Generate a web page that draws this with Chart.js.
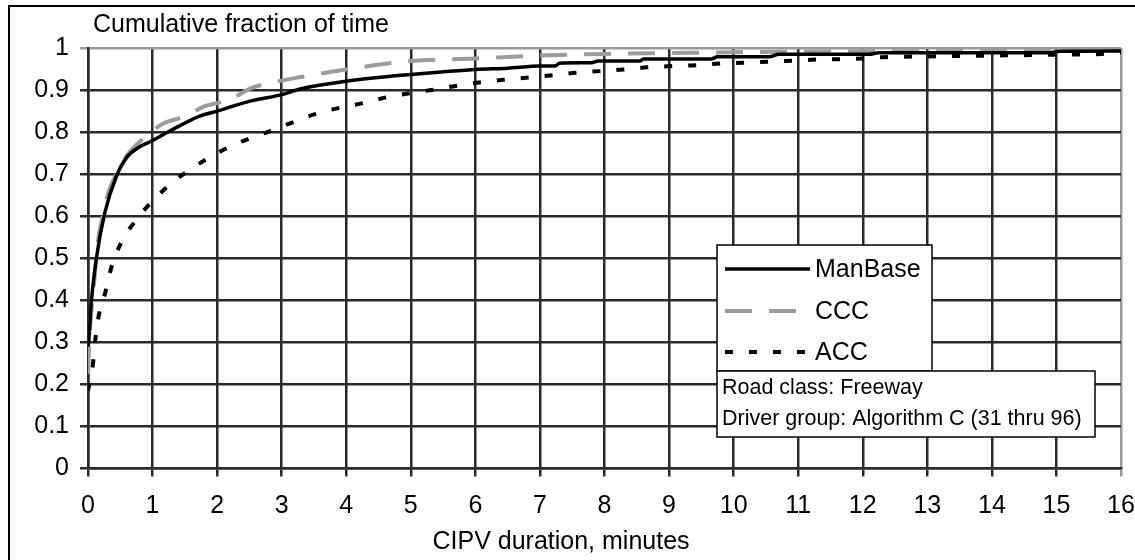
<!DOCTYPE html>
<html>
<head>
<meta charset="utf-8">
<title>CIPV duration</title>
<script src="https://cdn.jsdelivr.net/npm/chart.js@4.4.0/dist/chart.umd.min.js"></script>
<style>
  html, body { margin: 0; padding: 0; background: #fff; }
  canvas { display: block; }
</style>
</head>
<body>
<canvas id="canvas" width="1135" height="560"></canvas>
<script>
// cumulative fraction of time vs CIPV duration (minutes)
const manBaseMin = [0, 0.01, 0.05, 0.13, 0.26, 0.44, 0.6, 0.8, 1.0, 1.26, 1.73, 2.0, 2.5, 3.0, 3.3, 4, 5, 6, 6.5, 7, 7.25, 7.3, 7.8, 7.9, 8.55, 8.6, 9.65, 9.75, 10.55, 10.7, 12.1, 12.25, 14.9, 15.05, 16]
const manBaseFrac = [0.29, 0.3, 0.393, 0.5, 0.608, 0.695, 0.74, 0.765, 0.78, 0.802, 0.838, 0.85, 0.873, 0.889, 0.903, 0.921, 0.937, 0.949, 0.952, 0.957, 0.958, 0.964, 0.965, 0.969, 0.969, 0.974, 0.974, 0.979, 0.979, 0.985, 0.985, 0.989, 0.989, 0.992, 0.993]

const cccMin = [0, 0.03, 0.085, 0.15, 0.23, 0.31, 0.44, 0.61, 0.9, 1.16, 1.5, 1.8, 2.2, 2.5, 2.92, 3.3, 4, 5, 6, 7, 8, 9, 10, 12, 14, 16]
const cccFrac = [0.225, 0.33, 0.425, 0.536, 0.6, 0.654, 0.7, 0.746, 0.79, 0.82, 0.837, 0.861, 0.877, 0.903, 0.92, 0.931, 0.949, 0.969, 0.975, 0.982, 0.986, 0.988, 0.99, 0.992, 0.993, 0.995]

const accMin = [0, 0.075, 0.11, 0.163, 0.27, 0.36, 0.51, 0.75, 1.0, 1.29, 1.65, 2.0, 2.37, 2.76, 3.15, 3.5, 3.9, 4.26, 4.63, 5, 5.36, 5.74, 6.1, 6.47, 6.83, 7.2, 7.56, 7.92, 8.3, 8.66, 9.05, 9.41, 9.78, 10.15, 10.8, 11.2, 12.0, 12.3, 13, 14, 15, 15.7, 16]
const accFrac = [0.185, 0.246, 0.302, 0.361, 0.42, 0.477, 0.536, 0.592, 0.636, 0.678, 0.718, 0.75, 0.777, 0.799, 0.822, 0.842, 0.858, 0.869, 0.883, 0.893, 0.901, 0.911, 0.919, 0.925, 0.93, 0.935, 0.941, 0.945, 0.949, 0.954, 0.957, 0.959, 0.963, 0.965, 0.969, 0.972, 0.975, 0.978, 0.98, 0.982, 0.984, 0.986, 0.99]

const seriesNames = ['ManBase', 'CCC', 'ACC']
const noteLines = ['Road class: Freeway', 'Driver group: Algorithm C (31 thru 96)']
const yTitle = 'Cumulative fraction of time'
const xTitle = 'CIPV duration, minutes'

const FONT = "'Liberation Sans', Arial, sans-serif"

const toPoints = (xs, ys) => xs.map((x, i) => ({ x: x, y: ys[i] }))

// titles, legend and note box drawn on top of the plot
const decorations = {
    id: 'decorations',
    afterDraw(chart) {
        const { ctx } = chart
        ctx.save()

        // outer frame (runs off the right and bottom edges)
        ctx.strokeStyle = '#000'
        ctx.lineWidth = 2
        ctx.strokeRect(9, 6, 1140, 560)

        ctx.fillStyle = '#000'
        ctx.font = '25px ' + FONT
        ctx.textBaseline = 'middle'
        ctx.textAlign = 'left'
        ctx.fillText(yTitle, 93, 25)
        ctx.textAlign = 'center'
        ctx.fillText(xTitle, 561, 542)

        // legend
        ctx.fillStyle = '#fff'
        ctx.fillRect(717, 245, 215, 126)
        ctx.strokeStyle = '#000'
        ctx.lineWidth = 1.5
        ctx.strokeRect(717, 245, 215, 126)

        const rows = [269, 311, 352]
        chart.data.datasets.forEach((ds, i) => {
            ctx.save()
            ctx.strokeStyle = ds.borderColor
            ctx.lineWidth = ds.borderWidth
            ctx.setLineDash(ds.borderDash || [])
            ctx.beginPath()
            ctx.moveTo(725, rows[i])
            ctx.lineTo(810, rows[i])
            ctx.stroke()
            ctx.restore()
            ctx.fillStyle = '#000'
            ctx.font = '25px ' + FONT
            ctx.textAlign = 'left'
            ctx.textBaseline = 'middle'
            ctx.fillText(ds.label, 815, rows[i] + 1)
        })

        // note box
        ctx.fillStyle = '#fff'
        ctx.fillRect(717, 371, 378, 66)
        ctx.strokeStyle = '#000'
        ctx.lineWidth = 1.5
        ctx.strokeRect(717, 371, 378, 66)
        ctx.fillStyle = '#000'
        ctx.font = '21.5px ' + FONT
        ctx.textAlign = 'left'
        ctx.fillText(noteLines[0], 722, 388)
        ctx.fillText(noteLines[1], 722, 419)

        ctx.restore()
    }
}

const gridColor = edge => c => (c.tick && c.tick.value === edge ? '#9a9a9a' : '#2a2a2a')

const configChart = {
    type: 'line',
    plugins: [decorations],
    data: {
        datasets: [{
            label: seriesNames[0],
            data: toPoints(manBaseMin, manBaseFrac),
            borderColor: '#000',
            borderWidth: 3.5,
            pointRadius: 0
        }, {
            label: seriesNames[1],
            data: toPoints(cccMin, cccFrac),
            borderColor: '#9c9c9c',
            borderWidth: 4,
            borderDash: [27, 17],
            pointRadius: 0
        }, {
            label: seriesNames[2],
            data: toPoints(accMin, accFrac),
            borderColor: '#000',
            borderWidth: 4,
            borderDash: [8, 16],
            pointRadius: 0
        }]
    },
    options: {
        responsive: false,
        animation: false,
        layout: { padding: { top: 48, right: 14, left: 0, bottom: 0 } },
        elements: { line: { cubicInterpolationMode: 'monotone' } },
        plugins: {
            legend: { display: false },
            tooltip: { enabled: false },
            title: { display: false }
        },
        scales: {
            x: {
                type: 'linear',
                min: 0,
                max: 16,
                ticks: { stepSize: 1, color: '#000', padding: 15, font: { family: FONT, size: 25 }, maxRotation: 0 },
                grid: { color: gridColor(16), lineWidth: 2.5, tickLength: 8 },
                border: { color: '#2a2a2a', width: 2.5 },
                afterFit: s => {
                    s.height = 91.5
                    s.paddingLeft = 0
                    s.paddingRight = 0
                }
            },
            y: {
                min: 0,
                max: 1,
                ticks: {
                    stepSize: 0.1,
                    color: '#000',
                    padding: 11,
                    font: { family: FONT, size: 25 },
                    callback: v => String(Math.round(v * 10) / 10)
                },
                grid: { color: gridColor(1), lineWidth: 2.5, tickLength: 8 },
                border: { color: '#2a2a2a', width: 2.5 },
                afterFit: s => {
                    s.width = 88
                    s.paddingTop = 0
                    s.paddingBottom = 0
                }
            }
        }
    }
}

const canvas = document.getElementById('canvas')
const cipvChart = new Chart(canvas, configChart)
</script>
</body>
</html>
